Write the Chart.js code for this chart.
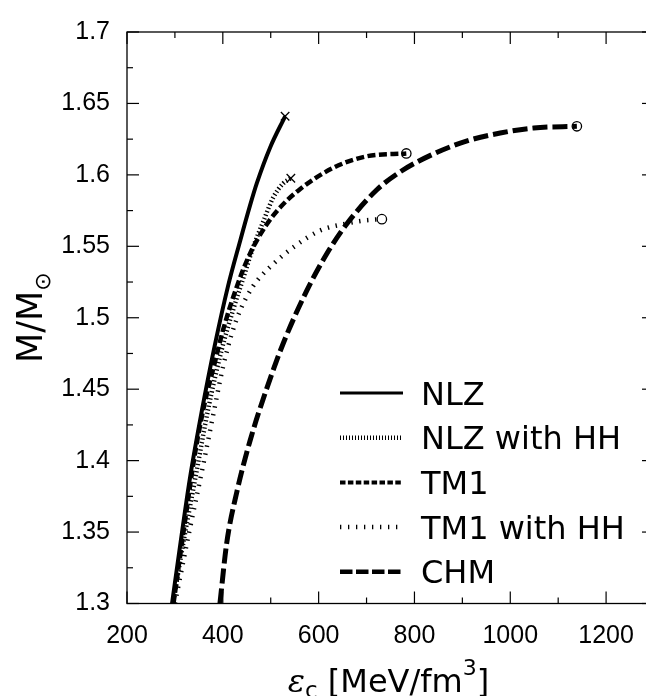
<!DOCTYPE html>
<html lang="en">
<head>
<meta charset="UTF-8">
<title>M/Msun vs central energy density</title>
<script src="https://cdn.jsdelivr.net/npm/chart.js"></script>
<style>
  html, body { margin: 0; padding: 0; background: #fff; overflow: hidden; }
  canvas { display: block; }
</style>
</head>
<body>
<canvas id="massChart" width="680" height="696"></canvas>
<script>
// central energy density (MeV/fm^3) and mass (M/Msun)
const nlzE   = [294, 312, 331, 356, 383, 411, 436, 457, 471, 499, 530];
const nlzM   = [1.30, 1.3432, 1.3869, 1.4344, 1.4803, 1.5223, 1.5536, 1.5788, 1.5942, 1.6194, 1.641];

const nlzHHE = [296, 320, 345, 370, 398, 422, 443, 463, 484, 505, 526, 542];
const nlzHHM = [1.30, 1.347, 1.392, 1.437, 1.478, 1.506, 1.528, 1.549, 1.567, 1.584, 1.594, 1.5976];

const tm1E   = [297, 320, 342, 362, 382, 401, 429, 457, 491, 519, 561, 631, 700, 783];
const tm1M   = [1.30, 1.355, 1.405, 1.44, 1.467, 1.492, 1.5216, 1.545, 1.565, 1.577, 1.590, 1.605, 1.613, 1.615];

const tm1HHE = [300, 328, 356, 380, 400, 418, 436, 463, 500, 550, 603, 659, 693, 732];
const tm1HHM = [1.30, 1.347, 1.392, 1.432, 1.465, 1.488, 1.505, 1.522, 1.536, 1.55, 1.561, 1.566, 1.568, 1.569];

const chmE   = [394, 408, 429, 457, 491, 526, 575, 617, 659, 721, 770, 840, 910, 979, 1049, 1139];
const chmM   = [1.30, 1.342, 1.3777, 1.4141, 1.4498, 1.482, 1.5188, 1.5448, 1.5658, 1.5894, 1.6021, 1.6147, 1.6238, 1.6293, 1.6328, 1.634];

const seriesLabels = ['NLZ', 'NLZ with HH', 'TM1', 'TM1 with HH', 'CHM'];
const xTicks = [200, 400, 600, 800, 1000, 1200];
const yTicks = [1.3, 1.35, 1.4, 1.45, 1.5, 1.55, 1.6, 1.65, 1.7];

const pts = (xs, ys) => xs.map((v, i) => ({ x: v, y: ys[i] }));
const lastOnly = r => ctx => (ctx.dataIndex === ctx.dataset.data.length - 1 ? r : 0);

// line looks: plot dash / width, legend dash / width, end marker
const looks = [
  { dash: [],         width: 4,   legDash: [],          legWidth: 3.2, marker: 'crossRot', r: 6 },
  { dash: [1.3, 2.4], width: 4.5, legDash: [1, 2],      legWidth: 4.5, marker: 'crossRot', r: 6 },
  { dash: [8, 3.5],   width: 4.5, legDash: [5.5, 2.4],  legWidth: 4,   marker: 'circle',   r: 4.7 },
  { dash: [1.4, 6.6], width: 4.5, legDash: [1.3, 6.7],  legWidth: 4.5, marker: 'circle',   r: 4.7 },
  { dash: [15, 5],    width: 5,   legDash: [12.5, 3.5], legWidth: 4.5, marker: 'circle',   r: 4.7 }
];
const series = [pts(nlzE, nlzM), pts(nlzHHE, nlzHHM), pts(tm1E, tm1M), pts(tm1HHE, tm1HHM), pts(chmE, chmM)];

const datasets = series.map((d, i) => ({
  label: seriesLabels[i],
  data: d,
  borderColor: '#000',
  borderWidth: looks[i].width,
  borderDash: looks[i].dash,
  borderCapStyle: 'butt',
  fill: false,
  cubicInterpolationMode: 'monotone',
  pointStyle: looks[i].marker,
  pointRadius: lastOnly(looks[i].r),
  pointHoverRadius: 0,
  pointBorderColor: '#000',
  pointBorderWidth: 1.3,
  pointBackgroundColor: 'rgba(0,0,0,0)'
}));

const near = (arr, v) => arr.find(t => Math.abs(t - v) < 1e-6);

// box, inward ticks on all four sides
const frameTicks = {
  id: 'frameTicks',
  afterDraw(chart) {
    const { ctx, chartArea: a, scales: { x, y } } = chart;
    ctx.save();
    ctx.strokeStyle = '#000';
    ctx.lineWidth = 1.3;
    ctx.strokeRect(a.left, a.top, a.right - a.left, a.bottom - a.top);
    ctx.lineWidth = 1.2;
    const seg = (x1, y1, x2, y2) => { ctx.beginPath(); ctx.moveTo(x1, y1); ctx.lineTo(x2, y2); ctx.stroke(); };
    x.ticks.forEach(t => {
      const px = x.getPixelForValue(t.value);
      const len = near(xTicks, t.value) !== undefined ? 12 : 6;
      seg(px, a.bottom, px, a.bottom - len);
      seg(px, a.top, px, a.top + len);
    });
    y.ticks.forEach(t => {
      const py = y.getPixelForValue(t.value);
      const len = near(yTicks, t.value) !== undefined ? 12 : 6;
      seg(a.left, py, a.left + len, py);
      seg(a.right, py, a.right - len, py);
    });
    ctx.restore();
  }
};

// axis titles with sub/superscripts
const axisTitles = {
  id: 'axisTitles',
  afterDraw(chart) {
    const { ctx, chartArea: a } = chart;
    ctx.save();
    ctx.fillStyle = '#000';
    ctx.textBaseline = 'alphabetic';

    // x title: eps_c [MeV/fm^3]
    const parts = [
      { t: '\u03B5', f: 'italic 32px "DejaVu Serif"', dy: 0 },
      { t: 'c', f: '23px "DejaVu Sans"', dy: 6 },
      { t: ' [MeV/fm', f: '32px "DejaVu Sans"', dy: 0 },
      { t: '3', f: '22px "DejaVu Sans"', dy: -17 },
      { t: ']', f: '32px "DejaVu Sans"', dy: 0 }
    ];
    let total = 0;
    parts.forEach(p => { ctx.font = p.f; p.w = ctx.measureText(p.t).width; total += p.w; });
    let cx = (a.left + a.right) / 2 - total / 2 - 2;
    const base = 692;
    parts.forEach(p => { ctx.font = p.f; ctx.fillText(p.t, cx, base + p.dy); cx += p.w; });

    // y title: M/M_sun, rotated
    ctx.translate(41.5, (a.top + a.bottom) / 2);
    ctx.rotate(-Math.PI / 2);
    ctx.font = '35px "DejaVu Sans"';
    const main = 'M/M';
    const mw = ctx.measureText(main).width;
    ctx.font = '22px "DejaVu Sans"';
    const sw = ctx.measureText('\u2299').width;
    const start = -(mw + sw) / 2;
    ctx.font = '35px "DejaVu Sans"';
    ctx.fillText(main, start, 0);
    ctx.font = '22px "DejaVu Sans"';
    ctx.fillText('\u2299', start + mw, 8);
    ctx.restore();
  }
};

// legend inside the plot
const innerLegend = {
  id: 'innerLegend',
  afterDraw(chart) {
    const { ctx } = chart;
    ctx.save();
    ctx.fillStyle = '#000';
    ctx.strokeStyle = '#000';
    ctx.font = '32px "DejaVu Sans"';
    ctx.textBaseline = 'alphabetic';
    chart.data.datasets.forEach((ds, i) => {
      const yc = 393 + i * 44.7;
      ctx.lineWidth = looks[i].legWidth;
      ctx.lineCap = 'butt';
      ctx.setLineDash(looks[i].legDash);
      ctx.beginPath();
      ctx.moveTo(340, yc);
      ctx.lineTo(403, yc);
      ctx.stroke();
      ctx.setLineDash([]);
      ctx.fillText(ds.label, 421, yc + 11.5);
    });
    ctx.restore();
  }
};

new Chart(document.getElementById('massChart'), {
  type: 'line',
  data: { datasets: datasets },
  options: {
    responsive: false,
    animation: false,
    devicePixelRatio: 1,
    layout: { padding: { top: 19.5, right: 26, left: 0, bottom: 0 } },
    plugins: { legend: { display: false }, tooltip: { enabled: false } },
    scales: {
      x: {
        type: 'linear',
        min: 200,
        max: 1300,
        grid: { display: false, drawTicks: false },
        border: { display: false },
        ticks: {
          stepSize: 100,
          autoSkip: false,
          maxRotation: 0,
          padding: 18,
          color: '#000',
          font: { family: '"Liberation Sans", Arial, sans-serif', size: 25 },
          callback: v => { const t = near(xTicks, v); return t !== undefined ? String(t) : ''; }
        },
        afterFit: s => { s.height = 92.5; }
      },
      y: {
        type: 'linear',
        min: 1.3,
        max: 1.7,
        grid: { display: false, drawTicks: false },
        border: { display: false },
        ticks: {
          stepSize: 0.025,
          autoSkip: false,
          padding: 17,
          color: '#000',
          font: { family: '"Liberation Sans", Arial, sans-serif', size: 25 },
          callback: v => { const t = near(yTicks, v); return t !== undefined ? String(t) : ''; }
        },
        afterFit: s => { s.width = 127; }
      }
    }
  },
  plugins: [frameTicks, axisTitles, innerLegend]
});
</script>
</body>
</html>
